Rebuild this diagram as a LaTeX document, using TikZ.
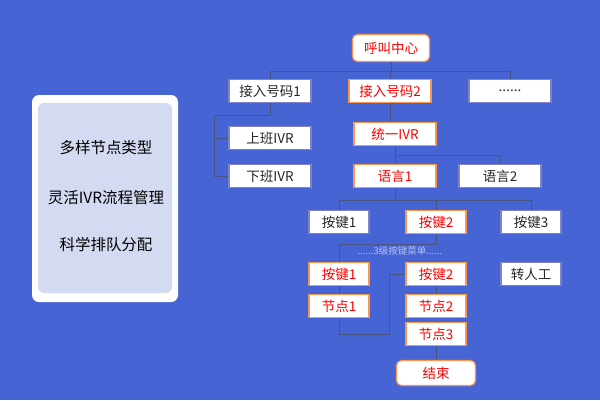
\documentclass[tikz,border=0pt]{standalone}
\usepackage{fontspec}
\setmainfont{Noto Sans CJK SC}
\begin{document}
\begin{tikzpicture}[x=1pt,y=-1pt,
  box/.style={draw=#1,line width=1.2pt,fill=white,minimum width=82pt,minimum height=23pt,inner sep=0pt,font=\fontsize{13.5}{15}\selectfont},
  wbox/.style={box=blue!40!gray!70,text=black!85},
  obox/.style={box=orange!80!red!70,text=red},
  conn/.style={draw=cyan!30!blue!60!black,line width=1pt},
  ]
\definecolor{bg}{HTML}{4764D4}
\definecolor{panel}{HTML}{D3DAF1}
\fill[bg] (0,0) rectangle (600,400);
\useasboundingbox (0,0) rectangle (600,400);
% left panel
\fill[white,rounded corners=7pt] (32,95) rectangle (178,302);
\fill[panel,rounded corners=6pt] (38,103) rectangle (172,293);
\node[font=\fontsize{15.5}{18}\selectfont] (p1) at (106,148) {多样节点类型};
\node[font=\fontsize{15.5}{18}\selectfont] (p2) at (106,198) {灵活IVR流程管理};
\node[font=\fontsize{15.5}{18}\selectfont] (p3) at (106,245) {科学排队分配};
% nodes
\node[obox,rounded corners=5pt,minimum width=77pt,minimum height=27pt] (cc) at (391,48) {呼叫中心};
\node[wbox] (n1) at (270,91) {接入号码1};
\node[obox] (n2) at (390,91) {接入号码2};
\node[wbox] (n3) at (510,91) {......};
\node[wbox] (up) at (270,138) {上班IVR};
\node[wbox] (dn) at (270,176) {下班IVR};
\node[obox] (ivr) at (395,134) {统一IVR};
\node[obox] (l1) at (395,176) {语言1};
\node[wbox] (l2) at (500,176) {语言2};
\node[wbox,minimum width=60pt] (k1) at (339,222) {按键1};
\node[obox,minimum width=60pt] (k2) at (436,222) {按键2};
\node[wbox,minimum width=60pt] (k3) at (531,222) {按键3};
\node[text=white!60!bg,font=\fontsize{9.5}{11}\selectfont] (lab) at (400,251) {......3级按键菜单......};
\node[obox,minimum width=60pt] (b1) at (339,274) {按键1};
\node[obox,minimum width=60pt] (b2) at (436,274) {按键2};
\node[wbox,minimum width=60pt] (zr) at (531,274) {转人工};
\node[obox,minimum width=60pt] (j1) at (339,306) {节点1};
\node[obox,minimum width=60pt] (j2) at (436,306) {节点2};
\node[obox,minimum width=60pt] (j3) at (436,334) {节点3};
\node[obox,rounded corners=5pt,minimum width=79pt,minimum height=25pt] (end) at (436,373) {结束};
% connectors
\path[conn] (cc.south) -- (cc.south |- 0,71);
\path[conn] (n1.north) |- (n3.north |- 0,71) -- (n3.north);
\path[conn] (cc.south |- 0,71) -- (n2.north);
\path[conn] (n1.south) |- (214,115) |- (dn.west);
\path[conn] (214,138) -- (up.west);
\path[conn] (n2.south) -- (n2.south |- ivr.north);
\path[conn] (ivr.south) -- (l1.north);
\path[conn] (395,155) -| (l2.north);
\path[conn] (l1.south) -- (395,200);
\path[conn] (k1.north) |- (k3.north |- 0,200) -- (k3.north);
\path[conn] (436,200) -- (k2.north);
\path[conn] (k2.south) |- (339,244) -- (b1.north);
\path[conn] (b1) -- (j1);
\path[conn] (b2) -- (j2);
\path[conn] (j3) -- (end);
\path[conn] (j1.south) |- (389,334) |- (b2.west);
\end{tikzpicture}
\end{document}
